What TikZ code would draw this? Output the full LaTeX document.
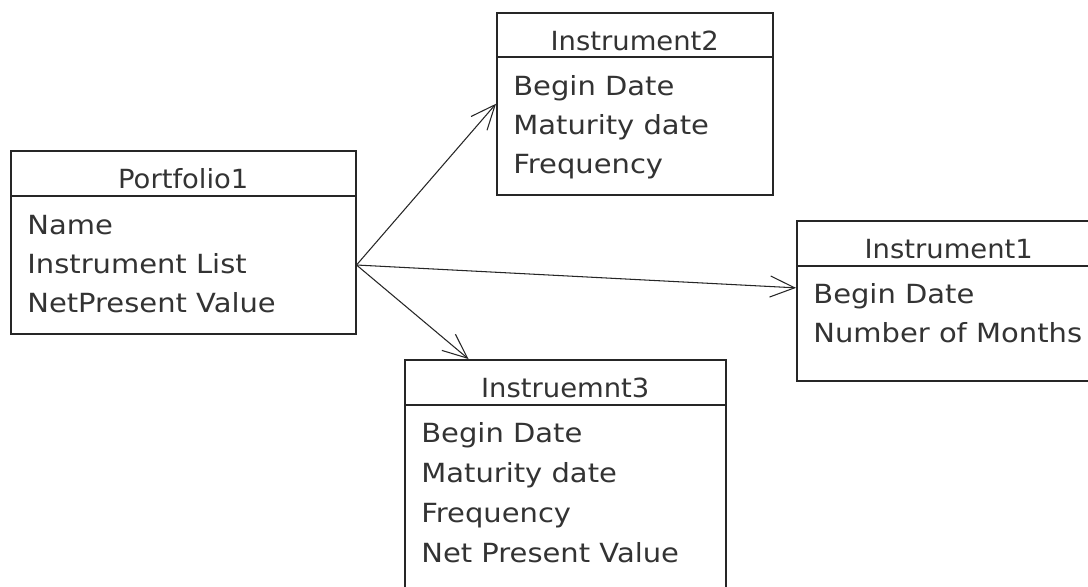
\documentclass[tikz,border=0pt]{standalone}
\usepackage{fontspec}
\setmainfont{DejaVu Sans}
\newfontfamily\attrfont{DejaVu Sans}[FakeStretch=1.1]
\newfontfamily\titlefont{DejaVu Sans}[FakeStretch=1.04]
\usetikzlibrary{arrows.meta,calc}
\begin{document}
\begin{tikzpicture}[x=0.02cm,y=-0.02cm,
  classbox/.style={rectangle,draw=black!85,line width=0.9pt,inner sep=0pt,anchor=north west},
  sep/.style={draw=black!85,line width=0.9pt},
  title/.style={anchor=base,inner sep=0pt,font=\titlefont\fontsize{15}{18}\selectfont,text=black!80},
  attr/.style={anchor=base west,inner sep=0pt,font=\attrfont\fontsize{15}{18}\selectfont,text=black!80},
  link/.style={-{Straight Barb[length=14pt,width=12pt]},line width=0.6pt,black!85}]
\clip (0,0) rectangle (1088,586);
\fill[white] (0,0) rectangle (1088,586);
% classes
\node[classbox,minimum width=6.9cm,minimum height=3.66cm] (P1) at (10,150) {};
\node[title] (P1t) at ($(P1.north)+(0,38)$) {Portfolio1};
\draw[sep] ($(P1.north west)+(0,46)$) -- ($(P1.north east)+(0,46)$);
\foreach \t [count=\i] in {Name,Instrument List,NetPresent Value}
  \node[attr] (P1a\i) at ($(P1.north west)+(17,{84+39*(\i-1)})$) {\t};

\node[classbox,minimum width=5.52cm,minimum height=3.64cm] (I2) at (496,12) {};
\node[title] (I2t) at ($(I2.north)+(0,38)$) {Instrument2};
\draw[sep] ($(I2.north west)+(0,45)$) -- ($(I2.north east)+(0,45)$);
\foreach \t [count=\i] in {Begin Date,Maturity date,Frequency}
  \node[attr] (I2a\i) at ($(I2.north west)+(17,{83+39*(\i-1)})$) {\t};

\node[classbox,minimum width=6.08cm,minimum height=3.2cm] (I1) at (796,220) {};
\node[title] (I1t) at ($(I1.north)+(0,38)$) {Instrument1};
\draw[sep] ($(I1.north west)+(0,46)$) -- ($(I1.north east)+(0,46)$);
\foreach \t [count=\i] in {Begin Date,Number of Months}
  \node[attr] (I1a\i) at ($(I1.north west)+(17,{83+39*(\i-1)})$) {\t};

\node[classbox,minimum width=6.42cm,minimum height=5cm] (I3) at (404,359) {};
\node[title] (I3t) at ($(I3.north)+(0,38)$) {Instruemnt3};
\draw[sep] ($(I3.north west)+(0,46)$) -- ($(I3.north east)+(0,46)$);
\foreach \t [count=\i] in {Begin Date,Maturity date,Frequency,Net Present Value}
  \node[attr] (I3a\i) at ($(I3.north west)+(17,{83+40*(\i-1)})$) {\t};

% links
\coordinate (hub) at ($(P1.north east)+(0,115)$);
\draw[link] (hub) -- (I2.west);
\draw[link] (hub) -- ($(I1.north west)!0.42!(I1.south west)$);
\draw[link] (hub) -- ($(I3.north west)!0.2!(I3.north east)$);
\end{tikzpicture}
\end{document}
